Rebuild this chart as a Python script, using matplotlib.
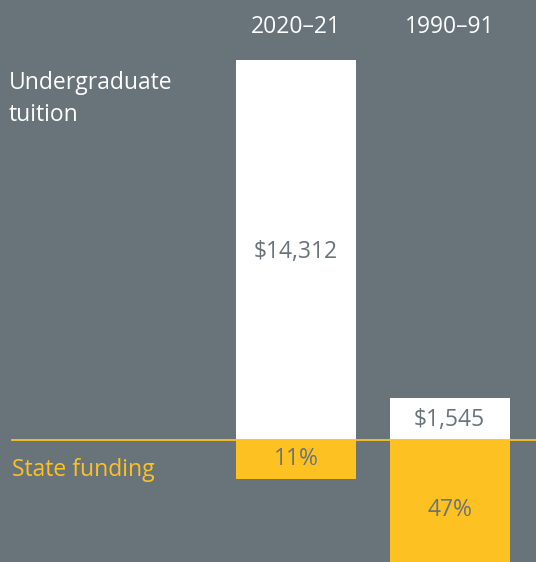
import matplotlib as mpl

mpl.use("Agg")

import matplotlib.pyplot as plt
import matplotlib.transforms as mtransforms

# data
years = ["2020\u201321", "1990\u201391"]
tuition = [14312, 1545]
state_share = [11, 47]
tuition_labels = ["$14,312", "$1,545"]
share_labels = ["11%", "47%"]

BG = "#68737a"
YELLOW = "#fdc221"
WHITE = "#ffffff"
TEXT_GRAY = "#68737a"

plt.rcParams["font.family"] = ["Open Sans", "DejaVu Sans"]

W, H = 536, 562
BASE = 439.5  # baseline, pixels from top
fig = plt.figure(figsize=(W / 100, H / 100), dpi=100, facecolor=BG)

# pixel geometry of the reference
px_per_dollar = 380 / tuition[0]
px_per_pct = 39 / state_share[0]
centers_px = [296, 449.5]
unit = centers_px[1] - centers_px[0]
xlim = (-centers_px[0] / unit, 1 + (W - centers_px[1]) / unit)
bar_w = 120 / unit

top_ax = fig.add_axes([0, (H - BASE) / H, 1, BASE / H])
bot_ax = fig.add_axes([0, 0, 1, (H - BASE) / H])
for ax in (top_ax, bot_ax):
    ax.set_facecolor(BG)
    ax.set_xlim(*xlim)
    ax.axis("off")

top_ax.set_ylim(0, BASE / px_per_dollar)
bot_ax.set_ylim(-(H - BASE) / px_per_pct, 0)

xs = list(range(len(years)))
top_ax.bar(xs, tuition, width=bar_w, color=WHITE, linewidth=0)
bot_ax.bar(xs, [-v for v in state_share], width=bar_w, color=YELLOW, linewidth=0)

# baseline
top_ax.axhline(0, xmin=12 / W, xmax=1, color=YELLOW, linewidth=1.3, clip_on=False, zorder=5)

fs = 16.5
trans = mtransforms.blended_transform_factory(top_ax.transData, top_ax.transAxes)
for x, yr in zip(xs, years):
    top_ax.text(x, 1 - 27 / BASE, yr, transform=trans, ha="center", va="center",
                color=WHITE, fontsize=fs)

# value labels (small downward nudge so glyphs sit where the reference has them)
nudge = 2.5
top_ax.text(xs[0], tuition[0] / 2 - nudge / px_per_dollar, tuition_labels[0], ha="center",
            va="center", color=TEXT_GRAY, fontsize=fs)
top_ax.text(xs[1], tuition[1] / 2 - 1 / px_per_dollar, tuition_labels[1], ha="center",
            va="center", color=TEXT_GRAY, fontsize=fs)
bot_ax.text(xs[0], -state_share[0] / 2, share_labels[0], ha="center", va="center",
            color=TEXT_GRAY, fontsize=fs)
bot_ax.text(xs[1], -70 / px_per_pct, share_labels[1], ha="center", va="center",
            color=TEXT_GRAY, fontsize=fs)

# row labels
fig.text(9 / W, 1 - 83 / H, "Undergraduate", ha="left", va="center", color=WHITE, fontsize=fs)
fig.text(9 / W, 1 - 115 / H, "tuition", ha="left", va="center", color=WHITE, fontsize=fs)
fig.text(12 / W, 1 - 470 / H, "State funding", ha="left", va="center", color=YELLOW, fontsize=fs)

fig.savefig("out.png", dpi=100, facecolor=BG)
